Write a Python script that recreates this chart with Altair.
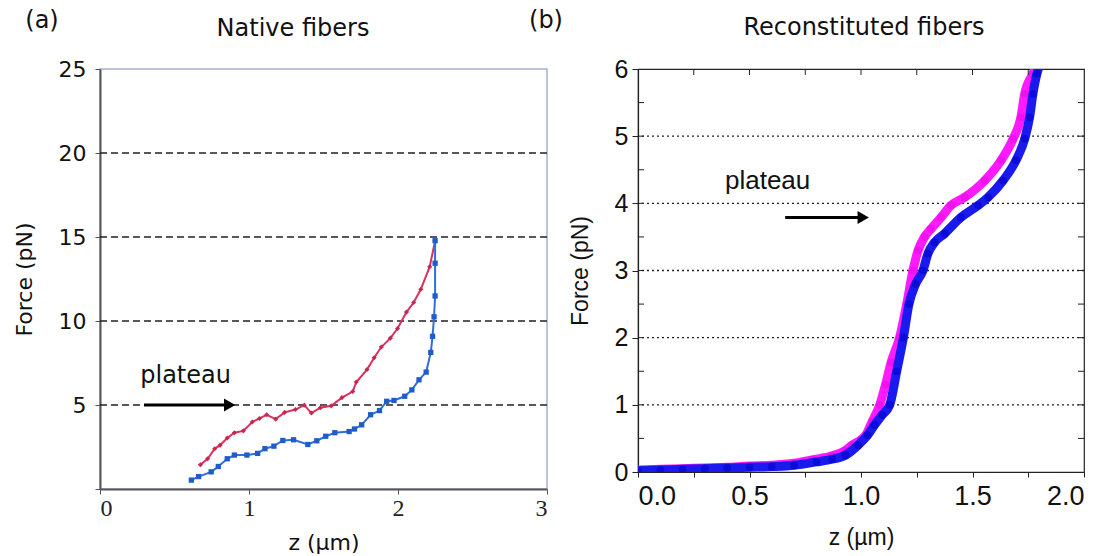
import altair as alt
import pandas as pd

# ---------------- Panel (a): Native fibers ----------------
red_z = [0.674, 0.722, 0.770, 0.806, 0.854, 0.902, 0.962, 1.022, 1.070, 1.119,
         1.179, 1.239, 1.311, 1.371, 1.419, 1.479, 1.552, 1.624, 1.696, 1.720,
         1.792, 1.840, 1.888, 1.949, 1.997, 2.057, 2.105, 2.153, 2.213, 2.249]
red_f = [1.44, 1.80, 2.40, 2.61, 3.04, 3.35, 3.46, 3.99, 4.20, 4.42,
         4.16, 4.56, 4.73, 4.99, 4.52, 4.84, 4.95, 5.44, 5.80, 6.37,
         7.11, 7.81, 8.45, 8.98, 9.55, 10.53, 11.10, 11.89, 13.23, 14.78]
blue_z = [0.613, 0.662, 0.746, 0.794, 0.854, 0.902, 0.986, 1.058, 1.107, 1.167,
          1.227, 1.299, 1.395, 1.455, 1.515, 1.576, 1.672, 1.708, 1.756, 1.816,
          1.876, 1.924, 1.973, 2.045, 2.093, 2.141, 2.189, 2.220, 2.232, 2.242,
          2.249, 2.249, 2.249]
blue_f = [0.53, 0.74, 1.02, 1.34, 1.80, 2.02, 2.02, 2.12, 2.40, 2.55,
          2.89, 2.93, 2.65, 2.87, 3.14, 3.35, 3.42, 3.57, 3.82, 4.42,
          4.67, 5.22, 5.27, 5.52, 5.90, 6.50, 6.96, 8.13, 9.09, 10.25,
          11.49, 13.44, 14.78]
a_grid = [5, 10, 15, 20]
a_xticks = [0, 1, 2, 3]
a_yticks = [0, 5, 10, 15, 20, 25]
a_arrow_z = [0.295, 0.86]
a_arrow_f = [5.0]
a_head_z = [0.87]
a_text = ["plateau"]
a_text_z = [0.27]
a_text_f = [6.7]
a_title = ["Native fibers"]

# ---------------- Panel (b): Reconstituted fibers ----------------
mag_z = [0.00, 0.10, 0.20, 0.30, 0.40, 0.50, 0.60, 0.70, 0.78, 0.87,
         0.93, 0.96, 1.00, 1.02, 1.05, 1.084, 1.11, 1.135, 1.173, 1.205,
         1.233, 1.256, 1.285, 1.314, 1.359, 1.404, 1.465, 1.555, 1.628, 1.682,
         1.717, 1.734, 1.771, 1.785]
mag_f = [0.03, 0.04, 0.05, 0.06, 0.07, 0.09, 0.10, 0.13, 0.18, 0.24,
         0.32, 0.40, 0.48, 0.54, 0.75, 1.00, 1.30, 1.63, 2.00, 2.50,
         3.00, 3.30, 3.50, 3.62, 3.79, 3.97, 4.09, 4.34, 4.64, 4.96,
         5.28, 5.63, 5.93, 6.05]
blu_z = [0.00, 0.10, 0.20, 0.30, 0.40, 0.50, 0.60, 0.70, 0.80, 0.87,
         0.93, 0.987, 1.03, 1.061, 1.095, 1.129, 1.16, 1.19, 1.215, 1.245,
         1.278, 1.30, 1.33, 1.375, 1.448, 1.525, 1.57, 1.637, 1.695, 1.734,
         1.756, 1.771, 1.789, 1.80]
blu_f = [0.02, 0.03, 0.04, 0.05, 0.06, 0.07, 0.08, 0.10, 0.15, 0.19,
         0.25, 0.40, 0.55, 0.70, 0.85, 1.00, 1.50, 2.00, 2.50, 2.80,
         3.00, 3.25, 3.42, 3.55, 3.79, 3.97, 4.09, 4.34, 4.64, 4.96,
         5.28, 5.63, 5.93, 6.05]
b_grid = [1, 2, 3, 4, 5]
b_xticks = [0.0, 0.25, 0.5, 0.75, 1.0, 1.25, 1.5, 1.75, 2.0]
b_yticks = [0, 1, 2, 3, 4, 5, 6]
b_top_ticks = [0.25, 0.5, 0.75, 1.0, 1.25, 1.5, 1.75]
b_side_ticks = [0.5, 1, 1.5, 2, 2.5, 3, 3.5, 4, 4.5, 5, 5.5]
b_arrow_z = [0.66, 1.0]
b_arrow_f = [3.79]
b_head_z = [1.01]
b_text = ["plateau"]
b_text_z = [0.39]
b_text_f = [4.33]
b_title = ["Reconstituted fibers"]
tags = ["(a)", "(b)"]

# ---------------- Panel (a) chart ----------------
WA, HA = 447, 420
xA = alt.Scale(domain=[0, 3], nice=False, zero=False)
yA = alt.Scale(domain=[0, 25], nice=False, zero=False)
axA_x = alt.Axis(values=a_xticks, format="d", title="z (µm)", grid=False,
                 labelFont="Liberation Serif", labelFontSize=24, labelColor="#222",
                 labelPadding=2, tickSize=5, tickColor="#555", domainColor="#555",
                 domainWidth=2, titleFont="DejaVu Sans", titleFontSize=22,
                 titleFontWeight="normal", titleColor="#111", titlePadding=12)
axA_y = alt.Axis(values=a_yticks, title="Force (pN)", grid=False,
                 labelExpr="datum.value == 0 ? '' : datum.label",
                 labelFont="DejaVu Sans", labelFontSize=22, labelColor="#111",
                 labelPadding=9, tickSize=5, tickColor="#555", domainColor="#555",
                 domainWidth=2, titleFont="DejaVu Sans", titleFontSize=22,
                 titleFontWeight="normal", titleColor="#111", titlePadding=22)

def X(scale, axis):
    return alt.X("z:Q", scale=scale, axis=axis)

def Y(scale, axis):
    return alt.Y("F:Q", scale=scale, axis=axis)

def free_text(label, px, py, size, font="DejaVu Sans"):
    return alt.Chart(pd.DataFrame({"t": [label]})).mark_text(
        align="center", baseline="middle", font=font, fontSize=size, color="#111"
    ).encode(text="t:N", x=alt.value(px), y=alt.value(py))

a_grid_layer = alt.Chart(pd.DataFrame({"F": a_grid})).mark_rule(
    color="#222", strokeDash=[7, 4], strokeWidth=1.3
).encode(y=Y(yA, axA_y))

red_df = pd.DataFrame({"z": red_z, "F": red_f, "i": range(len(red_z))})
blue_df = pd.DataFrame({"z": blue_z, "F": blue_f, "i": range(len(blue_z))})

red_line = alt.Chart(red_df).mark_line(
    color="#d9305f", strokeWidth=2,
    point=alt.OverlayMarkDef(filled=True, size=26, shape="diamond", color="#c8284f"),
).encode(x=X(xA, axA_x), y=Y(yA, axA_y), order="i:Q")
blue_line = alt.Chart(blue_df).mark_line(
    color="#2f6fd8", strokeWidth=2,
    point=alt.OverlayMarkDef(filled=True, size=28, shape="square", color="#1f5cc8"),
).encode(x=X(xA, axA_x), y=Y(yA, axA_y), order="i:Q")

a_arrow = alt.Chart(pd.DataFrame({"z": [a_arrow_z[0]], "z2": [a_arrow_z[1]], "F": a_arrow_f})).mark_rule(
    color="black", strokeWidth=3
).encode(x=X(xA, axA_x), x2="z2:Q", y=Y(yA, axA_y))
a_head = alt.Chart(pd.DataFrame({"z": a_head_z, "F": a_arrow_f})).mark_point(
    shape="triangle-right", filled=True, color="black", size=170, opacity=1
).encode(x=X(xA, axA_x), y=Y(yA, axA_y))
a_label = alt.Chart(pd.DataFrame({"z": a_text_z, "F": a_text_f, "t": a_text})).mark_text(
    align="left", baseline="middle", font="DejaVu Sans", fontSize=24, color="#111"
).encode(x=X(xA, axA_x), y=Y(yA, axA_y), text="t:N")

left = alt.layer(
    a_grid_layer, red_line, blue_line, a_arrow, a_head, a_label,
    free_text(tags[0], -58, -48, 24),
    free_text(tags[1], 446, -48, 24),
    free_text(a_title[0], 193, -40, 24),
).properties(
    width=WA, height=HA,
    view=alt.ViewBackground(stroke="#a9b1cf", strokeWidth=1.5),
)

# ---------------- Panel (b) chart ----------------
WB, HB = 446, 403
xB = alt.Scale(domain=[0, 2], nice=False, zero=False)
yB = alt.Scale(domain=[0, 6], nice=False, zero=False)
axB_x = alt.Axis(values=b_xticks, title="z (µm)", grid=False,
                 labelExpr="round(datum.value * 4) % 2 == 0 ? format(datum.value, '.1f') : ''",
                 labelFont="Liberation Sans Narrow, Liberation Sans", labelFontSize=27,
                 labelColor="#111", labelPadding=6, labelOverlap=False,
                 tickSize=5, tickColor="#222", domainColor="#222", domainWidth=1.2,
                 titleFont="Liberation Sans", titleFontSize=23, titleFontWeight="normal",
                 titleColor="#111", titlePadding=17)
axB_y = alt.Axis(values=b_yticks, title="Force (pN)", grid=False, format="d",
                 labelFont="Liberation Sans", labelFontSize=25, labelColor="#111",
                 labelPadding=4, tickSize=6, tickColor="#222", domainColor="#222",
                 domainWidth=1.2, titleFont="Liberation Sans", titleFontSize=23,
                 titleFontWeight="normal", titleColor="#111", titlePadding=22)

b_grid_layer = alt.Chart(pd.DataFrame({"F": b_grid})).mark_rule(
    color="#222", strokeDash=[2, 3], strokeWidth=1.3
).encode(y=Y(yB, axB_y))

mag_df = pd.DataFrame({"z": mag_z, "F": mag_f, "i": range(len(mag_z))})
blu_df = pd.DataFrame({"z": blu_z, "F": blu_f, "i": range(len(blu_z))})

mag_line = alt.Chart(mag_df).mark_line(
    color="#ff1aff", strokeWidth=9, strokeCap="round", strokeJoin="round",
    interpolate="monotone", clip=True
).encode(x=X(xB, axB_x), y=Y(yB, axB_y), order="i:Q")
mag_pts = alt.Chart(mag_df).mark_circle(color="#f010f0", size=60, opacity=1, clip=True).encode(
    x=X(xB, axB_x), y=Y(yB, axB_y))
blu_line = alt.Chart(blu_df).mark_line(
    color="#1a1aee", strokeWidth=9, strokeCap="round", strokeJoin="round",
    interpolate="monotone", clip=True
).encode(x=X(xB, axB_x), y=Y(yB, axB_y), order="i:Q")
blu_pts = alt.Chart(blu_df).mark_circle(color="#0c0cd8", size=60, opacity=1, clip=True).encode(
    x=X(xB, axB_x), y=Y(yB, axB_y))

top_ticks = alt.Chart(pd.DataFrame({"z": b_top_ticks})).mark_rule(color="#222").encode(
    x=X(xB, axB_x), y=alt.value(0), y2=alt.value(6))
right_ticks = alt.Chart(pd.DataFrame({"F": b_side_ticks})).mark_rule(color="#222").encode(
    y=Y(yB, axB_y), x=alt.value(WB - 6), x2=alt.value(WB))
left_ticks = alt.Chart(pd.DataFrame({"F": b_side_ticks})).mark_rule(color="#222").encode(
    y=Y(yB, axB_y), x=alt.value(0), x2=alt.value(6))

b_arrow = alt.Chart(pd.DataFrame({"z": [b_arrow_z[0]], "z2": [b_arrow_z[1]], "F": b_arrow_f})).mark_rule(
    color="black", strokeWidth=3
).encode(x=X(xB, axB_x), x2="z2:Q", y=Y(yB, axB_y))
b_head = alt.Chart(pd.DataFrame({"z": b_head_z, "F": b_arrow_f})).mark_point(
    shape="triangle-right", filled=True, color="black", size=170, opacity=1
).encode(x=X(xB, axB_x), y=Y(yB, axB_y))
b_label = alt.Chart(pd.DataFrame({"z": b_text_z, "F": b_text_f, "t": b_text})).mark_text(
    align="left", baseline="middle", font="Liberation Sans", fontSize=26, color="#111"
).encode(x=X(xB, axB_x), y=Y(yB, axB_y), text="t:N")

right = alt.layer(
    b_grid_layer, mag_line, mag_pts, blu_line, blu_pts,
    top_ticks, right_ticks, left_ticks, b_arrow, b_head, b_label,
    free_text(b_title[0], 226, -41, 24),
).properties(
    width=WB, height=HB,
    view=alt.ViewBackground(stroke="#222", strokeWidth=1.2),
)

chart = alt.hconcat(left, right, spacing=91, bounds="flush").properties(
    padding={"left": 12, "top": 8, "right": 5, "bottom": 5},
    background="white",
)

chart.save("out.html", embed_options={"renderer": "svg", "actions": False})
